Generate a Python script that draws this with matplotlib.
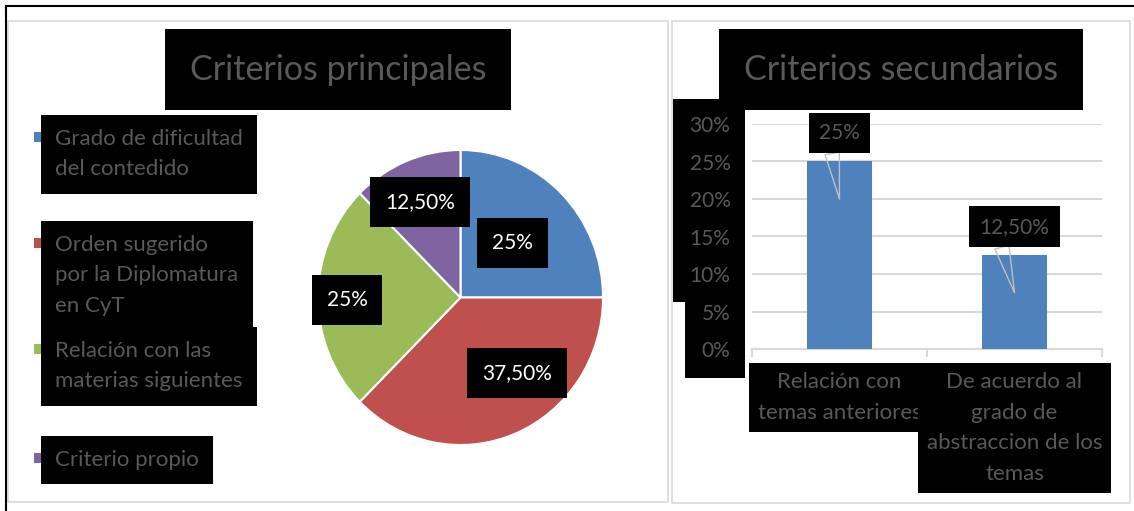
import numpy as np
import matplotlib.pyplot as plt
from matplotlib.patches import Rectangle

plt.rcParams['font.family'] = ['Lato', 'DejaVu Sans']

# --- datos ---
pie_title = "Criterios principales"
pie_labels = ["Grado de dificultad\ndel contedido",
              "Orden sugerido\npor la Diplomatura\nen CyT",
              "Relación con las\nmaterias siguientes",
              "Criterio propio"]
pie_values = [25.0, 37.5, 25.0, 12.5]

bar_title = "Criterios secundarios"
bar_labels = ["Relación con\ntemas anteriores",
              "De acuerdo al\ngrado de\nabstraccion de los\ntemas"]
bar_values = [0.25, 0.125]
y_ticks = [0, 0.05, 0.10, 0.15, 0.20, 0.25, 0.30]

pie_colors = ['#4F81BD', '#C0504D', '#9BBB59', '#8064A2']
bar_color = '#4F81BD'
GRAY = '#595959'
W, H = 1134, 511


def fx(x):
    return x / W


def fy(y):
    return 1 - y / H


def pct(v):
    # formato tipo Excel: entero sin decimales, si no dos decimales con coma
    if float(v).is_integer():
        return f"{int(v)}%"
    return f"{v:.2f}".replace('.', ',') + "%"


fig = plt.figure(figsize=(W / 100, H / 100), dpi=100)

# marcos
fig.add_artist(Rectangle((fx(8), fy(502)), fx(660), 481 / H, transform=fig.transFigure,
                         fill=False, ec='#D9D9D9', lw=1.2))
fig.add_artist(Rectangle((fx(672), fy(503)), fx(458), 482 / H, transform=fig.transFigure,
                         fill=False, ec='#D9D9D9', lw=1.2))
fig.add_artist(plt.Line2D([fx(6), 1], [fy(6), fy(6)], transform=fig.transFigure, color='black', lw=1.5))
fig.add_artist(plt.Line2D([fx(6), fx(6)], [fy(6), 0], transform=fig.transFigure, color='black', lw=1.5))

# --- tarta ---
fig.text(fx(338), fy(70), pie_title, fontsize=24.5, color=GRAY, ha='center', va='center',
         bbox=dict(boxstyle='square,pad=0.72', fc='black', ec='none'))

ax1 = fig.add_axes([fx(318), fy(445), fx(285), 295 / H])
wedges, _ = ax1.pie(pie_values, colors=pie_colors, startangle=90, counterclock=False,
                    wedgeprops=dict(edgecolor='white', linewidth=1.5))
ax1.set_xlim(-1, 1)
ax1.set_ylim(-1, 1)
ax1.set_aspect('auto')

lab_dist = [0.52, 0.647, 0.797, 0.707]
lab_rot = [0, 15, 1, 1]
for w, v, d, r in zip(wedges, pie_values, lab_dist, lab_rot):
    ang = np.deg2rad((w.theta1 + w.theta2) / 2 + r)
    ax1.text(d * np.cos(ang), d * np.sin(ang), pct(v), color='white', fontsize=15,
             ha='center', va='center',
             bbox=dict(boxstyle='square,pad=0.72', fc='black', ec='none'))

# leyenda manual
leg_y = [137, 243, 349, 458]
for lab, col, y in zip(pie_labels, pie_colors, leg_y):
    fig.add_artist(Rectangle((fx(34), fy(y + 5)), fx(8), 10 / H, transform=fig.transFigure,
                             fc=col, ec='none'))
    fig.text(fx(55), fy(y - 8), lab, fontsize=16, color=GRAY, ha='left', va='top',
             linespacing=1.65, bbox=dict(boxstyle='square,pad=0.65', fc='black', ec='none'))

# --- barras ---
fig.text(fx(901), fy(70), bar_title, fontsize=24.5, color=GRAY, ha='center', va='center',
         bbox=dict(boxstyle='square,pad=0.72', fc='black', ec='none'))

# fondo negro de las etiquetas del eje y
fig.add_artist(Rectangle((fx(673), fy(302)), fx(72), 203 / H, transform=fig.transFigure,
                         fc='black', ec='none', zorder=-1))
fig.add_artist(Rectangle((fx(685), fy(378)), fx(60), 80 / H, transform=fig.transFigure,
                         fc='black', ec='none', zorder=-1))

ax2 = fig.add_axes([fx(752), fy(349), fx(350), 225 / H])
x = np.arange(len(bar_values))
ax2.bar(x, bar_values, width=0.37, color=bar_color, zorder=3)
ax2.set_xlim(-0.5, len(bar_values) - 0.5)
ax2.set_ylim(0, 0.30)
ax2.set_yticks(y_ticks)
ax2.set_yticklabels([f"{int(round(t * 100))}%" for t in y_ticks], fontsize=15, color=GRAY)
ax2.yaxis.grid(True, color='#D9D9D9', lw=1.5, zorder=0)
ax2.set_axisbelow(True)
for s in ['top', 'right', 'left']:
    ax2.spines[s].set_visible(False)
ax2.spines['bottom'].set_color('#D9D9D9')
ax2.spines['bottom'].set_linewidth(1.5)
ax2.tick_params(axis='y', length=0, pad=15.5)
ax2.set_xticks(np.arange(-0.5, len(bar_values)), minor=True)
ax2.set_xticks(x)
ax2.set_xticklabels([])
ax2.tick_params(axis='x', which='major', length=0)
ax2.tick_params(axis='x', which='minor', length=6, color='#D9D9D9', width=1.5)

for i, lab in enumerate(bar_labels):
    ax2.annotate(lab, xy=(i, 0), xytext=(0, -23), textcoords='offset pixels',
                 ha='center', va='top', fontsize=16, color=GRAY, linespacing=1.67,
                 bbox=dict(boxstyle='square,pad=0.4', fc='black', ec='none'),
                 annotation_clip=False)

for i, v in enumerate(bar_values):
    ax2.annotate(pct(v * 100), xy=(i, v - 0.05), xytext=(0, 66), textcoords='offset pixels',
                 ha='center', va='center', fontsize=15, color=GRAY,
                 bbox=dict(boxstyle='square,pad=0.5', fc='black', ec='none'),
                 arrowprops=dict(arrowstyle='wedge,tail_width=0.7', fc='none', ec='#BFBFBF',
                                 shrinkA=0, shrinkB=0, relpos=(0.28, 0.0)),
                 zorder=5)

fig.savefig('out.png', dpi=100)
